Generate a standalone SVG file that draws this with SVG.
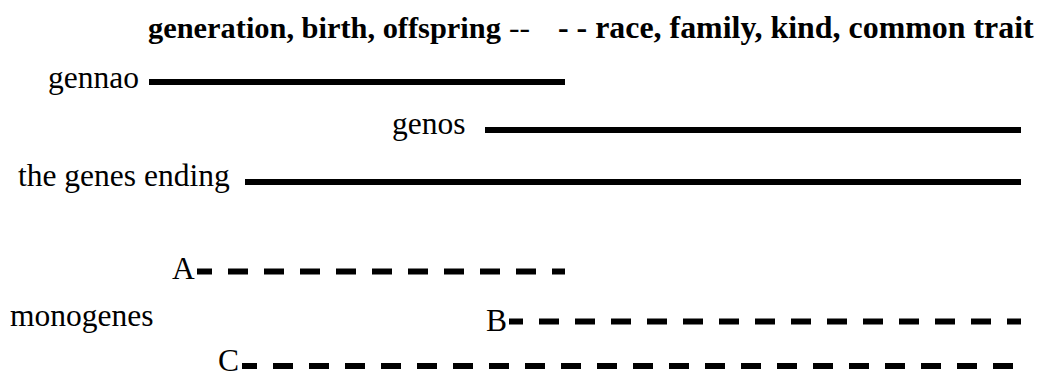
<svg xmlns="http://www.w3.org/2000/svg" width="1037" height="377" viewBox="0 0 1037 377">
<style>
text{font-family:'Liberation Serif','Times New Roman',Times,serif;fill:#000}
.t{font-size:31.5px}
.h{font-weight:bold}
.solid{stroke:#000;stroke-width:6;fill:none}
.dash{stroke:#000;stroke-width:6;fill:none;stroke-dasharray:20 16}
</style>
<rect width="1037" height="377" fill="#fff"/>
<g id="heading">
<text class="h" x="148" y="38" font-size="30.4">generation, birth, offspring</text>
<text class="t" x="509" y="38">--</text>
<text class="h" x="558" y="38" font-size="31.9">- - race, family, kind, common trait</text>
</g>
<g id="gennao"><text class="t" x="48" y="88">gennao</text></g>
<g id="genos"><text class="t" x="392" y="134">genos</text></g>
<g id="genes"><text class="t" x="18" y="186">the genes ending</text></g>
<g id="A"><text class="t" x="172" y="279">A</text></g>
<g id="monogenes"><text class="t" x="10" y="326">monogenes</text></g>
<g id="B"><text class="t" x="486" y="331">B</text></g>
<g id="C"><text class="t" x="218" y="371">C</text></g>
<g id="connectors">
<line class="solid" x1="149" y1="82" x2="565" y2="82"/>
<line class="solid" x1="485" y1="130" x2="1021" y2="130"/>
<line class="solid" x1="245" y1="182" x2="1021" y2="182"/>
<line class="dash" x1="197" y1="271.5" x2="565" y2="271.5" stroke-dashoffset="5"/>
<line class="dash" x1="509" y1="321.5" x2="1021" y2="321.5" stroke-dashoffset="6"/>
<line class="dash" x1="242" y1="366" x2="1021" y2="366" stroke-dashoffset="5"/>
</g>
</svg>
